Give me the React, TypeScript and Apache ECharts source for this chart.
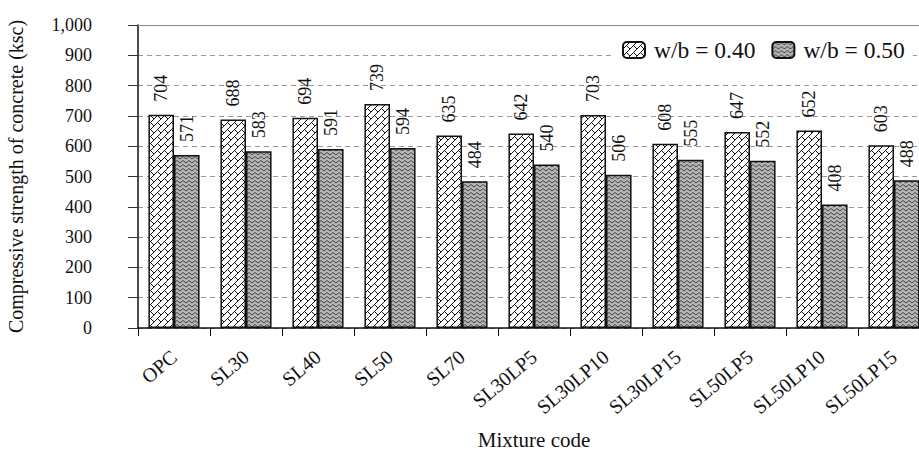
import React, { useEffect, useRef } from "react";
import * as echarts from "echarts";

const categories = [
  "OPC", "SL30", "SL40", "SL50", "SL70", "SL30LP5",
  "SL30LP10", "SL30LP15", "SL50LP5", "SL50LP10", "SL50LP15",
];
const wb040 = [704, 688, 694, 739, 635, 642, 703, 608, 647, 652, 603];
const wb050 = [571, 583, 591, 594, 484, 540, 506, 555, 552, 408, 488];
const seriesNames = ["w/b = 0.40", "w/b = 0.50"];

const FONT = "Liberation Serif";

function brickTile(): HTMLCanvasElement {
  const c = document.createElement("canvas");
  c.width = 7;
  c.height = 7;
  const g = c.getContext("2d")!;
  g.fillStyle = "#ffffff";
  g.fillRect(0, 0, 7, 7);
  g.strokeStyle = "#111111";
  g.lineWidth = 1;
  g.beginPath();
  g.moveTo(-1, 8);
  g.lineTo(8, -1);
  g.moveTo(3.5, 3.5);
  g.lineTo(7.5, 7.5);
  g.stroke();
  return c;
}

function zigzagTile(): HTMLCanvasElement {
  const c = document.createElement("canvas");
  c.width = 6;
  c.height = 4;
  const g = c.getContext("2d")!;
  g.fillStyle = "#b5b5b5";
  g.fillRect(0, 0, 6, 4);
  g.strokeStyle = "#444444";
  g.lineWidth = 1;
  g.beginPath();
  g.moveTo(0, 3);
  g.lineTo(3, 0.5);
  g.lineTo(6, 3);
  g.stroke();
  return c;
}

export default function App() {
  const ref = useRef<HTMLDivElement>(null);
  useEffect(() => {
    if (!ref.current) return;
    const chart = echarts.init(ref.current, undefined, { renderer: "svg" });
    const p1 = brickTile();
    const p2 = zigzagTile();
    const pat1: any = { image: p1, repeat: "repeat", imageWidth: 7, imageHeight: 7 };
    const pat2: any = { image: p2, repeat: "repeat", imageWidth: 6, imageHeight: 4 };
    const labelCfg = {
      show: true,
      position: "top" as const,
      rotate: 90,
      align: "left" as const,
      verticalAlign: "middle" as const,
      distance: 13,
      fontFamily: FONT,
      fontSize: 18,
      color: "#111",
    };
    chart.setOption({
      animation: false,
      backgroundColor: "#ffffff",
      textStyle: { fontFamily: FONT },
      legend: {
        left: 614,
        top: 34,
        padding: [4, 8],
        backgroundColor: "#ffffff",
        itemWidth: 22,
        itemHeight: 16,
        itemGap: 16,
        textStyle: { fontFamily: FONT, fontSize: 23.5, color: "#111", padding: [0, 0, 0, 4] },
        data: seriesNames,
      },
      grid: {
        left: 138,
        right: 20,
        top: 25,
        bottom: 125,
        containLabel: false,
        outerBoundsMode: "none",
      },
      xAxis: {
        type: "category",
        data: categories,
        name: "Mixture code",
        nameLocation: "middle",
        nameGap: 101,
        nameTextStyle: { fontFamily: FONT, fontSize: 21, color: "#111" },
        axisLine: { lineStyle: { color: "#111", width: 1.5 } },
        axisTick: { show: true, alignWithLabel: false, length: 8, lineStyle: { color: "#111" } },
        axisLabel: {
          rotate: 40,
          margin: 26,
          fontFamily: FONT,
          fontSize: 20,
          color: "#111",
          interval: 0,
        },
      },
      yAxis: {
        type: "value",
        min: 0,
        max: 1000,
        interval: 100,
        name: "Compressive strength of concrete (ksc)",
        nameLocation: "middle",
        nameGap: 112,
        nameTextStyle: { fontFamily: FONT, fontSize: 20, color: "#111" },
        axisLine: { show: true, lineStyle: { color: "#111", width: 1.5 } },
        axisTick: { show: true, length: 10, lineStyle: { color: "#333" } },
        axisLabel: {
          margin: 46,
          fontFamily: FONT,
          fontSize: 18,
          color: "#111",
          formatter: (v: number) => v.toLocaleString("en-US"),
        },
        splitLine: { show: true, lineStyle: { color: "#999", type: [5, 4], width: 1 } },
      },
      series: [
        {
          name: seriesNames[0],
          type: "bar",
          data: wb040,
          barGap: "0%",
          barCategoryGap: "29%",
          itemStyle: { color: pat1, borderColor: "#111", borderWidth: 1.5 },
          label: labelCfg,
          markLine: {
            silent: true,
            symbol: "none",
            label: { show: false },
            lineStyle: { color: "#888", type: "solid", width: 1 },
            data: [{ yAxis: 1000 }],
          },
        },
        {
          name: seriesNames[1],
          type: "bar",
          data: wb050,
          barGap: "0%",
          barCategoryGap: "29%",
          itemStyle: { color: pat2, borderColor: "#111", borderWidth: 1.5 },
          label: labelCfg,
        },
      ],
    });
    return () => chart.dispose();
  }, []);
  return (
    <div
      style={{
        position: "fixed",
        left: 0,
        top: 0,
        width: 919,
        height: 453,
        overflow: "hidden",
        background: "#fff",
      }}
    >
      <div ref={ref} style={{ width: 950, height: 453 }} />
    </div>
  );
}
